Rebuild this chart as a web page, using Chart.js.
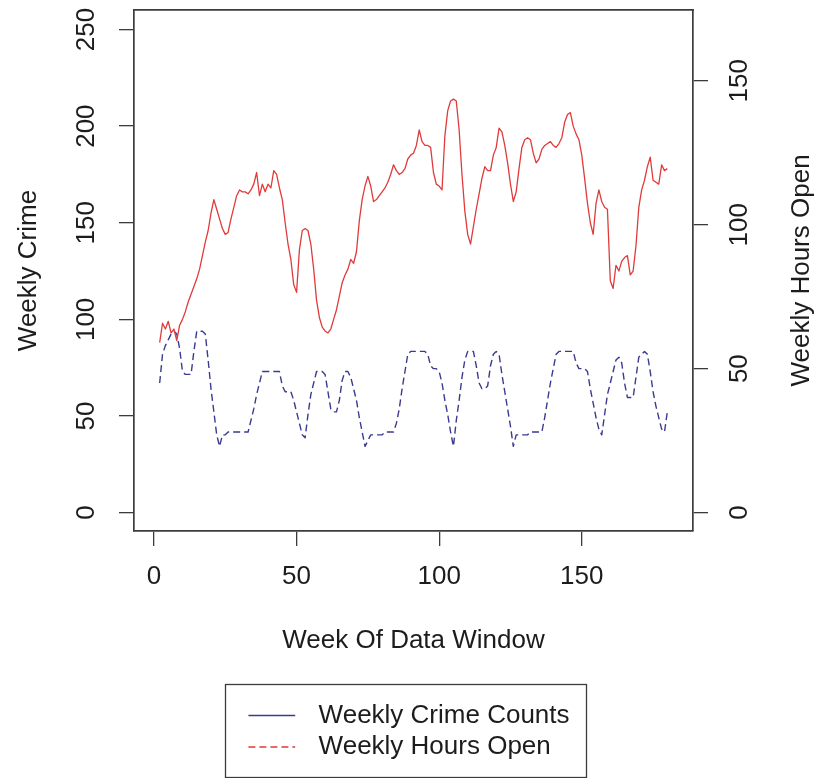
<!DOCTYPE html>
<html>
<head>
<meta charset="utf-8">
<script src="https://cdn.jsdelivr.net/npm/chart.js@4.4.0/dist/chart.umd.min.js"></script>
<style>
  html, body { margin: 0; padding: 0; background: #ffffff; }
  canvas { display: block; }
</style>
</head>
<body>
<canvas id="chart" width="822" height="778"></canvas>
<script>
// ---------------- data ----------------
const FIRST_WEEK = 2;

// Weekly crime (left axis), weeks 2..180
const weeklyCrime = [
  88, 98, 95, 99, 93, 95, 89, 97, 100, 104,
  109, 113, 117, 121, 126, 133, 140, 146, 155, 162,
  157, 152, 147, 144, 145, 152, 158, 164, 167, 166,
  166, 165, 167, 170, 176, 164, 170, 166, 170, 168,
  177, 175, 168, 162, 150, 139, 131, 118, 114, 136,
  146, 147, 146, 139, 126, 110, 101, 96, 94, 93,
  95, 100, 105, 112, 119, 123, 126, 131, 129, 135,
  151, 162, 169, 174, 169, 161, 162, 164, 166, 168,
  171, 175, 180, 177, 175, 176, 178, 183, 185, 186,
  190, 198, 192, 190, 190, 189, 176, 170, 169, 167,
  195, 208, 213, 214, 213, 198, 175, 156, 144, 139,
  148, 157, 165, 173, 179, 177, 177, 185, 189, 199,
  197, 190, 181, 170, 161, 166, 178, 189, 193, 194,
  193, 186, 181, 183, 188, 190, 191, 192, 190, 189,
  191, 194, 202, 206, 207, 200, 196, 193, 185, 173,
  160, 150, 144, 160, 167, 161, 158, 157, 120, 116,
  128, 125, 130, 132, 133, 123, 125, 138, 158, 167,
  172, 179, 184, 172, 171, 170, 180, 177, 178
];

// Weekly hours open (right axis), weeks 2..180
const weeklyHoursOpen = [
  45, 55, 58, 60, 62, 63, 62, 57, 49, 48,
  48, 48, 56, 63, 63, 63, 62, 53, 43, 35,
  27, 23, 27, 27, 28, 28, 28, 28, 28, 28,
  28, 28, 32, 36, 41, 45, 49, 49, 49, 49,
  49, 49, 49, 44, 42, 42, 42, 39, 35, 31,
  27, 26, 34, 41, 45, 49, 49, 49, 48, 42,
  36, 35, 35, 39, 46, 49, 49, 47, 43, 39,
  33, 28, 23, 25, 27, 27, 27, 27, 27, 28,
  28, 28, 28, 31, 36, 43, 49, 55, 56, 56,
  56, 56, 56, 56, 55, 51, 50, 50, 49, 45,
  39, 34, 28, 23, 32, 39, 47, 53, 56, 56,
  56, 51, 45, 43, 43, 44, 51, 55, 56, 55,
  48, 42, 36, 30, 23, 27, 27, 27, 27, 27,
  28, 28, 28, 28, 28, 33, 39, 45, 50, 55,
  56, 56, 56, 56, 56, 56, 52, 50, 50, 50,
  49, 43, 38, 33, 29, 27, 34, 41, 45, 49,
  53, 54, 52, 45, 40, 40, 40, 47, 54, 55,
  56, 55, 49, 42, 37, 33, 29, 28, 35
];

const xTickValues = [0, 50, 100, 150];
const crimeTickValues = [0, 50, 100, 150, 200, 250];
const hoursTickValues = [0, 50, 100, 150];

const xTitle = 'Week Of Data Window';
const leftTitle = 'Weekly Crime';
const rightTitle = 'Weekly Hours Open';

const legendLabels = ['Weekly Crime Counts', 'Weekly Hours Open'];
const legendColors = ['#3a3a90', '#e03a3a'];
const legendDashes = [[], [7, 4]];

// ---------------- styles ----------------
const TEXT = '#1c1c1c';
const FRAME = '#3c3c3c';
const FONT_FAMILY = '"Liberation Sans", Arial, Helvetica, sans-serif';
const FONT = { family: FONT_FAMILY, size: 26, lineHeight: 1.2 };
const CRIME_COLOR = '#e03a3a';
const HOURS_COLOR = '#3a3a90';

const weeks = weeklyCrime.map((_, i) => FIRST_WEEK + i);
const crimePoints = weeks.map((w, i) => ({ x: w, y: weeklyCrime[i] }));
const hoursPoints = weeks.map((w, i) => ({ x: w, y: weeklyHoursOpen[i] }));

function fixedTicks(values) {
  return scale => { scale.ticks = values.map(v => ({ value: v })); };
}
function zeroPadding(scale) {
  scale.paddingLeft = 0; scale.paddingRight = 0;
  scale.paddingTop = 0; scale.paddingBottom = 0;
}
const tickGrid = {
  display: true, drawOnChartArea: false, drawTicks: true,
  tickLength: 15, color: FRAME, lineWidth: 1.3
};
const frameBorder = { display: true, color: FRAME, width: 1.7 };

// right axis title reads bottom-to-top like the reference
const rightTitlePlugin = {
  id: 'rightTitle',
  afterDraw(chart) {
    const s = chart.scales.y2;
    const a = chart.chartArea;
    const ctx = chart.ctx;
    ctx.save();
    ctx.translate(s.right - 20, (a.top + a.bottom) / 2);
    ctx.rotate(-Math.PI / 2);
    ctx.font = `${FONT.size}px ${FONT_FAMILY}`;
    ctx.fillStyle = TEXT;
    ctx.textAlign = 'center';
    ctx.textBaseline = 'middle';
    ctx.fillText(rightTitle, 0, 0);
    ctx.restore();
  }
};

// boxed legend under the x axis title
const LEGEND_BOX = { x: 225, y: 684, w: 361, h: 93 };
const LEGEND_ROW = 31.5;
const LEGEND_CHAR = 23.4;
const boxedLegendPlugin = {
  id: 'boxedLegend',
  afterDraw(chart) {
    const ctx = chart.ctx;
    const b = LEGEND_BOX;
    ctx.save();
    ctx.strokeStyle = FRAME;
    ctx.lineWidth = 1.3;
    ctx.strokeRect(b.x + 0.5, b.y + 0.5, b.w, b.h);
    ctx.font = `${FONT.size}px ${FONT_FAMILY}`;
    ctx.textAlign = 'left';
    ctx.textBaseline = 'middle';
    legendLabels.forEach((label, i) => {
      const y = b.y + LEGEND_ROW * (i + 1);
      const x0 = b.x + LEGEND_CHAR;
      ctx.beginPath();
      ctx.setLineDash(legendDashes[i]);
      ctx.strokeStyle = legendColors[i];
      ctx.lineWidth = 1.4;
      ctx.moveTo(x0, y);
      ctx.lineTo(x0 + 2 * LEGEND_CHAR, y);
      ctx.stroke();
      ctx.setLineDash([]);
      ctx.fillStyle = TEXT;
      ctx.fillText(label, x0 + 3 * LEGEND_CHAR, y);
    });
    ctx.restore();
  }
};

new Chart(document.getElementById('chart'), {
  type: 'line',
  data: {
    datasets: [
      {
        label: legendLabels[0],
        data: crimePoints,
        yAxisID: 'y',
        xAxisID: 'x',
        borderColor: CRIME_COLOR,
        borderWidth: 1.3,
        pointRadius: 0,
        tension: 0,
        fill: false,
        borderJoinStyle: 'round'
      },
      {
        label: legendLabels[1],
        data: hoursPoints,
        yAxisID: 'y2',
        xAxisID: 'x',
        borderColor: HOURS_COLOR,
        borderWidth: 1.4,
        borderDash: [7, 4],
        pointRadius: 0,
        tension: 0,
        fill: false,
        borderJoinStyle: 'round'
      }
    ]
  },
  options: {
    responsive: false,
    animation: false,
    layout: { padding: { top: 10, bottom: 117, left: 0, right: 0 } },
    plugins: {
      legend: { display: false },
      tooltip: { enabled: false },
      title: { display: false }
    },
    scales: {
      x: {
        type: 'linear',
        position: 'bottom',
        min: -7,
        max: 189,
        afterBuildTicks: fixedTicks(xTickValues),
        ticks: { padding: 15, maxRotation: 0, minRotation: 0, autoSkip: false, color: TEXT, font: FONT },
        grid: tickGrid,
        border: frameBorder,
        title: { display: true, text: xTitle, color: TEXT, font: FONT, padding: { top: 0, bottom: 5 } },
        afterFit: s => { s.height = 130; zeroPadding(s); }
      },
      xTop: {
        type: 'linear',
        position: 'top',
        min: -7,
        max: 189,
        ticks: { display: false },
        grid: { display: false, drawTicks: false },
        border: frameBorder,
        afterFit: s => { s.height = 0; zeroPadding(s); }
      },
      y: {
        type: 'linear',
        position: 'left',
        min: -9.5,
        max: 260.1,
        afterBuildTicks: fixedTicks(crimeTickValues),
        ticks: { padding: 10, minRotation: 90, maxRotation: 90, crossAlign: 'center', autoSkip: false, color: TEXT, font: FONT },
        grid: tickGrid,
        border: frameBorder,
        title: { display: true, text: leftTitle, color: TEXT, font: FONT, padding: { top: 13, bottom: 0 } },
        afterFit: s => { s.width = 134; zeroPadding(s); }
      },
      y2: {
        type: 'linear',
        position: 'right',
        min: -6.4,
        max: 174.6,
        afterBuildTicks: fixedTicks(hoursTickValues),
        ticks: { padding: 10, minRotation: 90, maxRotation: 90, crossAlign: 'center', autoSkip: false, color: TEXT, font: FONT },
        grid: tickGrid,
        border: frameBorder,
        title: { display: false },
        afterFit: s => { s.width = 129; zeroPadding(s); }
      }
    }
  },
  plugins: [rightTitlePlugin, boxedLegendPlugin]
});
</script>
</body>
</html>
